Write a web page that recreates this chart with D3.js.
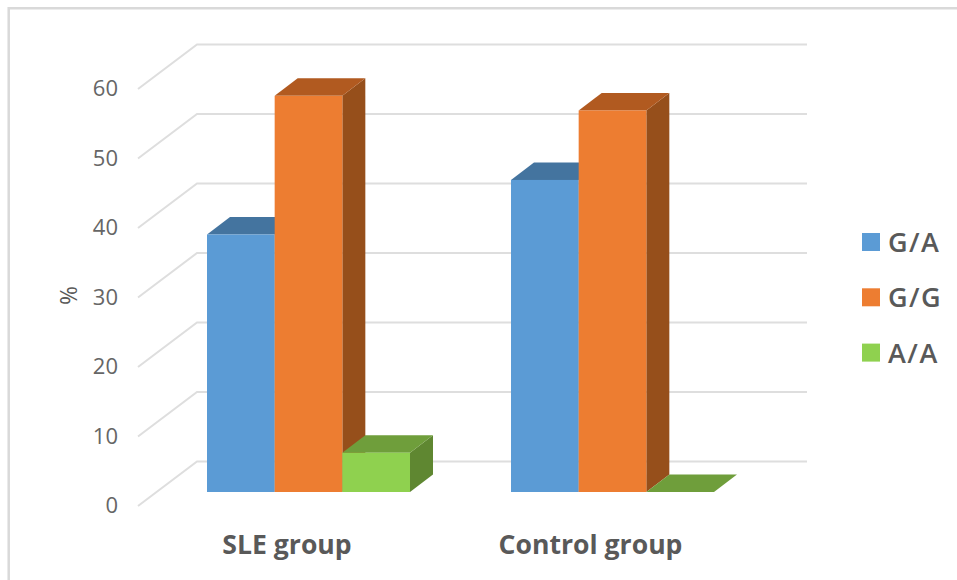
<!DOCTYPE html>
<html>
<head>
<meta charset="utf-8">
<script src="https://cdnjs.cloudflare.com/ajax/libs/d3/7.8.5/d3.min.js"></script>
<style>
html, body { margin: 0; padding: 0; background: #fff; }
svg { display: block; }
text { font-family: "Open Sans", sans-serif; fill: #595959; }
</style>
</head>
<body>
<svg id="chart" width="957" height="580"></svg>
<script>
const groups = ["SLE group", "Control group"];
const seriesNames = ["G/A", "G/G", "A/A"];
const gaValues = [37.05, 44.9];
const ggValues = [57, 54.9];
const aaValues = [5.65, 0];
const yTicks = [0, 10, 20, 30, 40, 50, 60];

const faceColors = ["#5B9BD5", "#ED7D31", "#8FD14F"];
const topColors = ["#44749F", "#B15A20", "#6F9E3B"];
const sideColors = ["#3D6A92", "#964F1B", "#5F8731"];

const svg = d3.select("#chart");

// Oblique projection: the floor runs from the front edge to the back wall.
const wallDx = 59, wallDy = -44.5;
const barOffsetDx = 18.5, barOffsetDy = -14;
const barDepthDx = 23, barDepthDy = -17.5;

const y = d3.scaleLinear().domain([0, 60]).range([506, 89]);
const x = d3.scaleBand().domain(groups).range([138, 746]);
const xSeries = d3.scaleBand().domain(seriesNames).range([0, 203]);
const groupStart = g => x(g) + (x.bandwidth() - xSeries.range()[1]) / 2;

// Outer frame
svg.append("path")
  .attr("d", "M8.7,580V8.3H957")
  .attr("fill", "none")
  .attr("stroke", "#D9D9D9")
  .attr("stroke-width", 2.5);

// Gridlines: slanted along the side wall, then straight along the back wall
const grid = svg.append("g").attr("fill", "none").attr("stroke", "#DEDEDE").attr("stroke-width", 2);
yTicks.forEach(t => {
  grid.append("path").attr("d", d3.line()([
    [x.range()[0], y(t)],
    [x.range()[0] + wallDx, y(t) + wallDy],
    [x.range()[1] + wallDx + 2, y(t) + wallDy]
  ]));
});

// Tick labels
svg.append("g").selectAll("text").data(yTicks).join("text")
  .attr("x", 118)
  .attr("y", d => y(d) - 2)
  .attr("text-anchor", "end")
  .attr("dominant-baseline", "central")
  .attr("font-size", 22)
  .style("fill", "#666666")
  .text(d => d);

// Axis title
svg.append("text")
  .attr("transform", "translate(67.5,295.5) rotate(-90)")
  .attr("text-anchor", "middle")
  .attr("dominant-baseline", "central")
  .attr("font-size", 23)
  .text("%");

// Bars, drawn from the first series to the last so that the faces overlap correctly
const seriesValues = [gaValues, ggValues, aaValues];
const bars = svg.append("g");
groups.forEach((g, gi) => {
  const x0 = groupStart(g) + barOffsetDx;
  seriesNames.forEach((s, si) => {
    const v = seriesValues[si][gi];
    const left = x0 + xSeries(s);
    const right = left + xSeries.bandwidth();
    const base = y(0) + barOffsetDy;
    const top = y(v) + barOffsetDy;
    const bar = bars.append("g");
    if (v > 0) {
      bar.append("path").attr("fill", sideColors[si]).attr("d", d3.line()([
        [right, top], [right + barDepthDx, top + barDepthDy],
        [right + barDepthDx, base + barDepthDy], [right, base]
      ]) + "Z");
    }
    bar.append("path").attr("fill", topColors[si]).attr("d", d3.line()([
      [left, top], [left + barDepthDx, top + barDepthDy],
      [right + barDepthDx, top + barDepthDy], [right, top]
    ]) + "Z");
    if (v > 0) {
      bar.append("rect").attr("fill", faceColors[si])
        .attr("x", left).attr("y", top)
        .attr("width", right - left).attr("height", base - top);
    }
  });
});

// Category labels
svg.append("g").selectAll("text").data(groups).join("text")
  .attr("x", (d, i) => [287, 590.5][i])
  .attr("y", 544)
  .attr("text-anchor", "middle")
  .attr("dominant-baseline", "central")
  .attr("font-size", 26.6)
  .attr("font-weight", 700)
  .text(d => d);

// Legend
const legend = svg.append("g").selectAll("g").data(seriesNames).join("g")
  .attr("transform", (d, i) => `translate(862,${233 + i * 55.3})`);
legend.append("rect")
  .attr("width", 18).attr("height", 18)
  .attr("fill", (d, i) => faceColors[i]);
legend.append("text")
  .attr("x", 26).attr("y", 8.5)
  .attr("dominant-baseline", "central")
  .attr("font-size", 27)
  .attr("font-weight", 600)
  .attr("letter-spacing", 1.5)
  .text(d => d);
</script>
</body>
</html>
